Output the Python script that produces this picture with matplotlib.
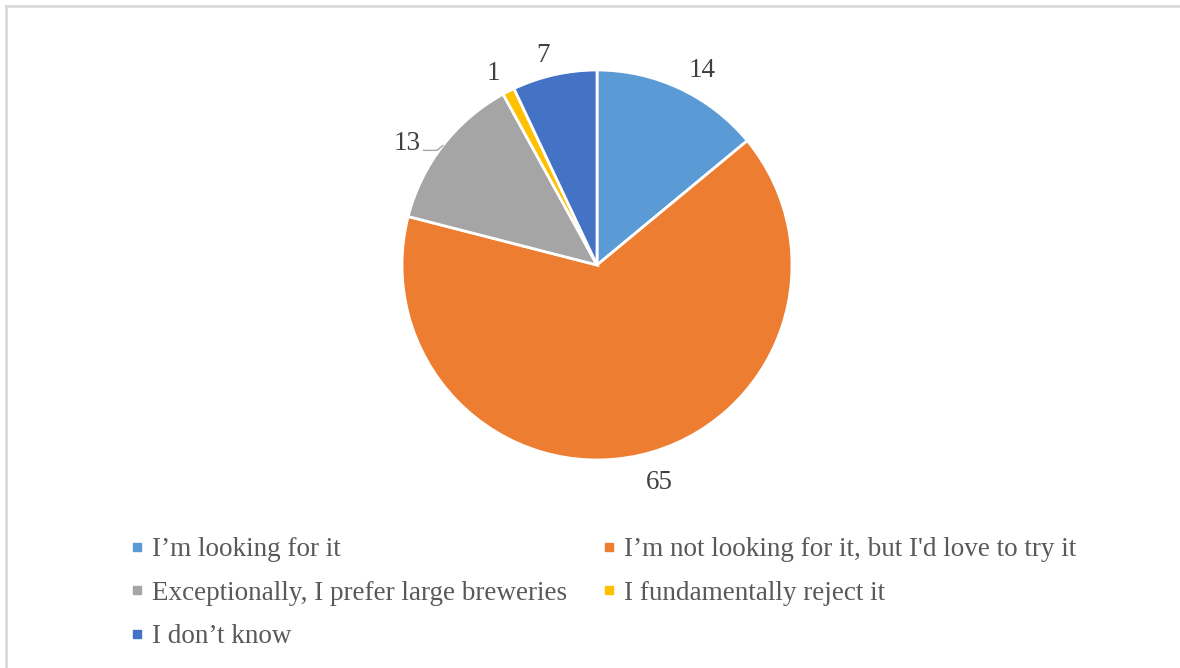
import matplotlib
matplotlib.use("Agg")
import matplotlib.pyplot as plt
from matplotlib.lines import Line2D
import numpy as np

categories = ["I\u2019m looking for it",
              "I\u2019m not looking for it, but I'd love to try it",
              "Exceptionally, I prefer large breweries",
              "I fundamentally reject it",
              "I don\u2019t know"]
values = [14, 65, 13, 1, 7]
colors = ["#5B9BD5", "#ED7D31", "#A5A5A5", "#FFC000", "#4472C4"]

plt.rcParams['font.family'] = ['Liberation Serif', 'DejaVu Serif']

W, H = 1180, 668
fig = plt.figure(figsize=(W / 100, H / 100), dpi=100)
fig.patch.set_facecolor("white")

# border (top and left visible)
fig.add_artist(Line2D([6 / W, 1.0], [1 - 6 / H, 1 - 6 / H], color="#D9D9D9", lw=2, transform=fig.transFigure))
fig.add_artist(Line2D([6 / W, 6 / W], [0, 1 - 6 / H], color="#D9D9D9", lw=2, transform=fig.transFigure))

cx, cy, r = 597, 265, 195
ax = fig.add_axes([(cx - r) / W, (H - cy - r) / H, 2 * r / W, 2 * r / H])
wedges, texts = ax.pie(values, colors=colors, startangle=90, counterclock=False,
                       labels=[str(v) for v in values], labeldistance=1.1,
                       wedgeprops=dict(edgecolor="white", linewidth=2),
                       textprops=dict(fontsize=19.5, color="#404040"))
ax.set_xlim(-1, 1)
ax.set_ylim(-1, 1)
ax.set_aspect("equal")
ax.axis("off")

# nudge the big-slice label a bit further out
px, py = texts[1].get_position()
texts[1].set_position((px * 1.04, py * 1.04))

# label with leader line for the grey slice
total = sum(values)
start = 90 - 360 * sum(values[:2]) / total
mid = np.deg2rad(start - 180 * values[2] / total)
ex, ey = np.cos(mid), np.sin(mid)
texts[2].set_visible(False)
ax.plot([ex - 0.1, ex - 0.03, ex], [ey - 0.025, ey - 0.025, ey], color="#A6A6A6", lw=1,
        clip_on=False)
ax.text(ex - 0.115, ey + 0.01, str(values[2]), fontsize=19.5, color="#404040",
        ha="right", va="center")

handles = [Line2D([0], [0], marker="s", linestyle="none", markersize=6,
                  markerfacecolor=c, markeredgecolor=c) for c in colors]
order = [0, 2, 4, 1, 3]
leg = fig.legend([handles[i] for i in order], [categories[i] for i in order],
                 ncol=2, loc="upper left", bbox_to_anchor=(106 / W, 1 - 513 / H),
                 frameon=False, fontsize=19.5, handlelength=0.5, handletextpad=0.3,
                 columnspacing=1.3, labelspacing=0.68, labelcolor="#595959")

fig.savefig("out.png", dpi=100, facecolor="white")
